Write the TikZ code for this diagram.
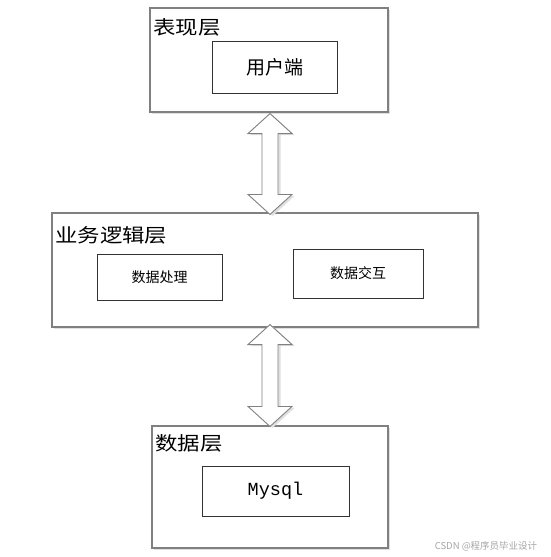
\documentclass[tikz,border=0pt]{standalone}
\usepackage{fontspec}
\newfontfamily\cjkbig[FakeStretch=1.18]{Noto Sans CJK SC}
\newfontfamily\cjk{Noto Sans CJK SC}
\newfontfamily\monofont{Liberation Mono}
\usetikzlibrary{shadows,calc}
\begin{document}
\begin{tikzpicture}[x=1pt,y=-1pt,
  layerbox/.style={draw=black!50, line width=1.1pt, fill=white, minimum width=#1, inner sep=0pt,
    drop shadow={shadow xshift=1.5pt, shadow yshift=-1.5pt, fill=black!12, opacity=1}},
  compbox/.style={draw=black!80, line width=0.9pt, fill=white, inner sep=0pt},
  layerlabel/.style={anchor=west, inner sep=1pt, font=\cjkbig\fontsize{19}{21}\selectfont},
  comptext/.style={font=\cjk\fontsize{14}{16}\selectfont},
  bigtext/.style={font=\cjk\fontsize{19}{21}\selectfont},
  blockarrow/.style={draw=black!50, line width=0.9pt, fill=white, line join=miter},
  arrowshadow/.style={fill=black!12, draw=none}
]
\useasboundingbox (0,0) rectangle (550,557);
\fill[white] (0,0) rectangle (550,557);

% Presentation layer
\node[layerbox=238pt, minimum height=104pt] (pres) at (269,60) {};
\node[layerlabel] (preslbl) at (152,27) {表现层};
\node[compbox, minimum width=125pt, minimum height=52pt, bigtext] (client) at (274.5,67) {用户端};

% Business logic layer
\node[layerbox=426pt, minimum height=114pt] (biz) at (265,270) {};
\node[layerlabel] (bizlbl) at (54,235) {业务逻辑层};
\node[compbox, minimum width=125pt, minimum height=46pt, comptext] (proc) at (159.5,277) {数据处理};
\node[compbox, minimum width=130pt, minimum height=49pt, comptext] (inter) at (358,273.5) {数据交互};

% Data layer
\node[layerbox=236pt, minimum height=122pt] (data) at (270,487) {};
\node[layerlabel] (datalbl) at (154,443) {数据层};
\node[compbox, minimum width=147pt, minimum height=50pt, font=\monofont\fontsize{18.5}{20}\selectfont] (mysql) at (275.5,491) {Mysql};

% Double block arrows
\coordinate (a1t) at ($(pres.south)+(1,1)$);
\coordinate (a1b) at ($(biz.north)+(5,2)$);
\coordinate (a2t) at ($(biz.south)+(5,-3)$);
\coordinate (a2b) at ($(data.north)+(0,1)$);

\foreach \t/\b in {a1t/a1b, a2t/a2b}{
  \path let \p1=(\t), \p2=(\b) in
    [arrowshadow, xshift=2.5pt, yshift=-1.5pt]
    (\x1,\y1) -- ++(22pt,-20pt) -- ++(-14pt,0) |- ($(\x2,\y2)+(8pt,20pt)$) -- ++(14pt,0) -- (\x2,\y2)
    -- ++(-22pt,20pt) -- ++(14pt,0) |- ($(\x1,\y1)+(-8pt,-20pt)$) -- ++(-14pt,0) -- cycle;
  \draw let \p1=(\t), \p2=(\b) in
    [blockarrow]
    (\x1,\y1) -- ++(22pt,-20pt) -- ++(-14pt,0) |- ($(\x2,\y2)+(8pt,20pt)$) -- ++(14pt,0) -- (\x2,\y2)
    -- ++(-22pt,20pt) -- ++(14pt,0) |- ($(\x1,\y1)+(-8pt,-20pt)$) -- ++(-14pt,0) -- cycle;
}

% Watermark
\node[font=\cjk\fontsize{9.5}{11}\selectfont, text=black!35] (wm) at (486,546) {CSDN @程序员毕业设计};
\end{tikzpicture}
\end{document}
